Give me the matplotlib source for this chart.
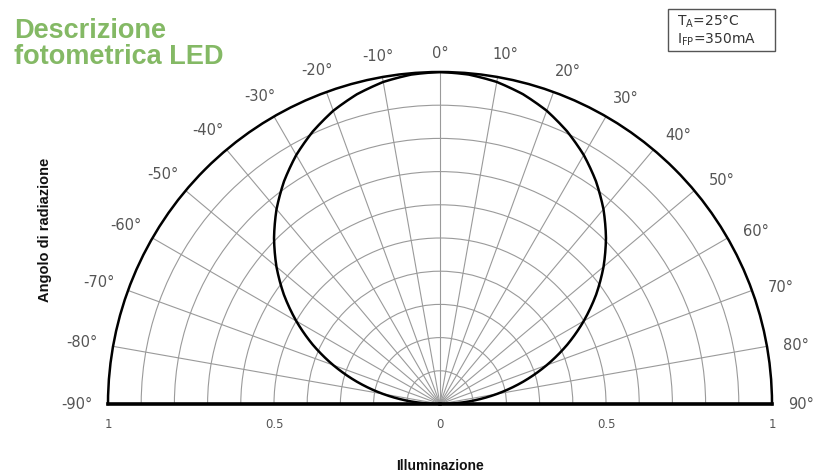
import numpy as np
import matplotlib
matplotlib.use("Agg")
import matplotlib.pyplot as plt
from matplotlib.patches import Rectangle

# ---- data ----
angles_deg = [-90, -85, -80, -75, -70, -65, -60, -55, -50, -45, -40, -35, -30, -25, -20, -15, -10, -5,
              0, 5, 10, 15, 20, 25, 30, 35, 40, 45, 50, 55, 60, 65, 70, 75, 80, 85, 90]
intensity = [0.0, 0.087, 0.174, 0.259, 0.342, 0.423, 0.500, 0.574, 0.643, 0.707, 0.766, 0.819, 0.866,
             0.906, 0.940, 0.966, 0.985, 0.996, 1.0, 0.996, 0.985, 0.966, 0.940, 0.906, 0.866, 0.819,
             0.766, 0.707, 0.643, 0.574, 0.500, 0.423, 0.342, 0.259, 0.174, 0.087, 0.0]

theta_grid = [-90, -80, -70, -60, -50, -40, -30, -20, -10, 0, 10, 20, 30, 40, 50, 60, 70, 80, 90]
theta_labels = ['-90°', '-80°', '-70°', '-60°', '-50°', '-40°', '-30°', '-20°', '-10°', '0°',
                '10°', '20°', '30°', '40°', '50°', '60°', '70°', '80°', '90°']
r_grid = [0.1, 0.2, 0.3, 0.4, 0.5, 0.6, 0.7, 0.8, 0.9]
r_label_pos = [-1.0, -0.5, 0.0, 0.5, 1.0]
r_label_txt = ['1', '0.5', '0', '0.5', '1']

title_lines = ["Descrizione", "fotometrica LED"]
ylabel_txt = "Angolo di radiazione"
xlabel_txt = "Illuminazione"

W, H = 815, 477
fig = plt.figure(figsize=(W / 100, H / 100), dpi=100)
fig.patch.set_facecolor('white')

cx, cy, R = 440, 405, 332
# half-disk is fitted (scaled by 1/2) into the axes box, so give a box twice as large
mid_y = cy - R / 2
ax = fig.add_axes([(cx - 2 * R) / W, (H - mid_y - R) / H, 4 * R / W, 2 * R / H], projection='polar')
ax.set_theta_zero_location('N')
ax.set_theta_direction(-1)
ax.set_thetamin(-90)
ax.set_thetamax(90)
ax.set_rlim(0, 1)

ax.set_thetagrids(theta_grid, [''] * len(theta_grid))
ax.set_rgrids(r_grid, labels=[''] * len(r_grid))
ax.grid(True, color='#9a9a9a', linewidth=0.8)
ax.spines['polar'].set_linewidth(1.8)
ax.spines['polar'].set_color('black')
for s in ('start', 'end'):
    ax.spines[s].set_linewidth(2.6)
    ax.spines[s].set_color('black')
ax.spines['inner'].set_visible(False)

line, = ax.plot(np.deg2rad(angles_deg), intensity, color='black', linewidth=1.8, zorder=5)
line.get_path()._interpolation_steps = 20

# angle labels just outside the outer arc
for a, lab in zip(theta_grid, theta_labels):
    s = abs(np.sin(np.deg2rad(a)))
    s2 = abs(np.sin(np.deg2rad(2 * a)))
    if a > 0:
        th = np.deg2rad(a + 1.5 * s2)
        r_lab = 1.07 + 0.018 * s
    else:
        th = np.deg2rad(a - 0.3 * s2)
        r_lab = 1.06 + 0.035 * s
    ax.text(th, r_lab, lab, ha='center', va='center', fontsize=10.5, color='#555555', clip_on=False)

for pos, txt in zip(r_label_pos, r_label_txt):
    th = np.deg2rad(90 if pos >= 0 else -90)
    ax.annotate(txt, xy=(th, abs(pos)), xytext=(0, -14), textcoords='offset points',
                ha='center', va='center', fontsize=8.5, color='#555555', annotation_clip=False)

narrow = ['Liberation Sans Narrow', 'Liberation Sans', 'DejaVu Sans']
fig.text(14 / W, 1 - 38 / H, title_lines[0], ha='left', va='baseline', fontsize=19.5, fontweight='bold',
         color='#84b965', family=narrow)
fig.text(14 / W, 1 - 64 / H, title_lines[1], ha='left', va='baseline', fontsize=19.5, fontweight='bold',
         color='#84b965', family=narrow)
fig.text(45 / W, 1 - 230 / H, ylabel_txt, rotation=90, ha='center', va='center', fontsize=10.5,
         fontweight='bold', color='#111111', family=narrow)
fig.text(440 / W, 1 - 466 / H, xlabel_txt, ha='center', va='center', fontsize=10,
         fontweight='bold', color='#111111', family=narrow)

fig.add_artist(Rectangle((668 / W, 1 - 52 / H), 107 / W, 42 / H, transform=fig.transFigure,
                         fill=False, edgecolor='#555555', linewidth=1.0))
fig.text(677 / W, 1 - 22 / H, r'T$_{\rm A}$=25°C', ha='left', va='center', fontsize=10, color='#333333')
fig.text(677 / W, 1 - 40 / H, r'I$_{\rm FP}$=350mA', ha='left', va='center', fontsize=10, color='#333333')

fig.savefig('out.png', dpi=100, facecolor='white')
